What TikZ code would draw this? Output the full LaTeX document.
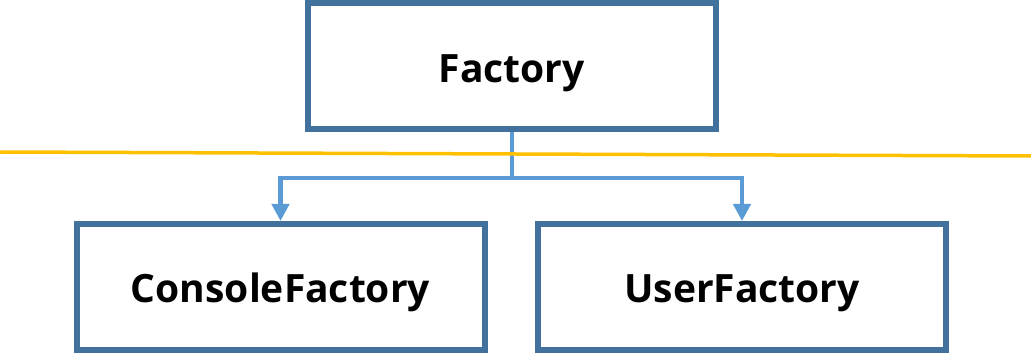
\documentclass[tikz,border=0pt]{standalone}
\usepackage{fontspec}
\setmainfont{Open Sans}
\usepackage{tikz}
\usetikzlibrary{arrows.meta, positioning}
\definecolor{cadre}{HTML}{41719C}
\definecolor{lien}{HTML}{5B9BD5}
\definecolor{jaune}{HTML}{FFC000}
\tikzset{
  bloc/.style={rectangle, draw=cadre, line width=6pt, fill=white,
    font=\fontsize{39}{44}\selectfont\bfseries, minimum width=408pt,
    minimum height=126pt, inner sep=0pt, text height=32pt, text depth=0pt},
  fleche/.style={-{Triangle[width=17pt, length=17pt]}, line width=4.5pt, color=lien},
  separation/.style={line width=3.5pt, color=jaune}
}

\begin{document}
\begin{tikzpicture}[x=1pt, y=1pt]
    \useasboundingbox (0, 0) rectangle (1031, -355);

    \node[bloc] (f) at (511.75, -66.5) {Factory};
    \node[bloc] (c) at (280.5, -287)   {ConsoleFactory};
    \node[bloc] (u) at (742, -287)     {UserFactory};

    \coordinate (jonction) at (511.75, -178);
    \coordinate (gauche) at (0, -152);
    \coordinate (droite) at (1031, -156);

    \draw[fleche] (f.south) -- (jonction) -| (c.north);
    \draw[fleche] (jonction) -| (u.north);
    \draw[separation] (gauche) -- (droite);
  \end{tikzpicture}
\end{document}
